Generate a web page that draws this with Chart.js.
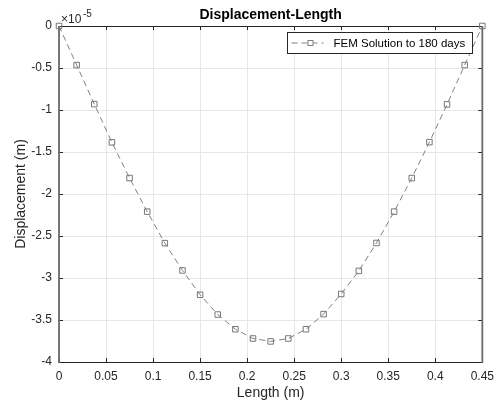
<!DOCTYPE html>
<html>
<head>
<meta charset="utf-8">
<script src="https://cdn.jsdelivr.net/npm/chart.js@4/dist/chart.umd.min.js"></script>
<style>
html,body{margin:0;padding:0;background:#fff;}
canvas{display:block;}
</style>
</head>
<body>
<canvas id="c" width="501" height="406"></canvas>
<script>
// Length along the member (m)
const lengthM = [0, 0.01875, 0.0375, 0.05625, 0.075, 0.09375, 0.1125, 0.13125, 0.15, 0.16875,
	0.1875, 0.20625, 0.225, 0.24375, 0.2625, 0.28125, 0.3, 0.31875, 0.3375, 0.35625,
	0.375, 0.39375, 0.4125, 0.43125, 0.45];
// Displacement, in units of 1e-5 m
const displacementE5 = [0, -0.465, -0.93, -1.385, -1.81, -2.21, -2.585, -2.91, -3.2, -3.435,
	-3.61, -3.72, -3.755, -3.72, -3.61, -3.43, -3.19, -2.915, -2.583, -2.21,
	-1.81, -1.383, -0.933, -0.465, 0];
const seriesName = 'FEM Solution to 180 days';
const xTicks = [0, 0.05, 0.1, 0.15, 0.2, 0.25, 0.3, 0.35, 0.4, 0.45];
const yTicks = [-4, -3.5, -3, -2.5, -2, -1.5, -1, -0.5, 0];

const font = 'Liberation Sans, Arial, Helvetica, sans-serif';
const axisCol = '#262626';
const lineCol = '#808080';

// box, inward ticks, title, exponent and legend drawn MATLAB style
const furniture = {
	id: 'furniture',
	beforeDatasetsDraw(chart){
		const ctx = chart.ctx, a = chart.chartArea;
		const sx = chart.scales.x, sy = chart.scales.y;
		ctx.save();
		ctx.strokeStyle = axisCol;
		ctx.lineWidth = 1;
		ctx.beginPath();
		xTicks.forEach(function(v){
			let p = Math.round(sx.getPixelForValue(v)) + 0.5;
			ctx.moveTo(p, a.bottom); ctx.lineTo(p, a.bottom - 4);
			ctx.moveTo(p, a.top); ctx.lineTo(p, a.top + 4);
		});
		yTicks.forEach(function(v){
			let p = Math.round(sy.getPixelForValue(v)) + 0.5;
			ctx.moveTo(a.left, p); ctx.lineTo(a.left + 4, p);
			ctx.moveTo(a.right, p); ctx.lineTo(a.right - 4, p);
		});
		ctx.stroke();
		// box
		ctx.beginPath();
		ctx.moveTo(a.left, a.top + 0.5); ctx.lineTo(a.right, a.top + 0.5);
		ctx.moveTo(a.left, a.bottom + 0.5); ctx.lineTo(a.right, a.bottom + 0.5);
		ctx.stroke();
		ctx.strokeStyle = '#6a6a6a';
		ctx.lineWidth = 1.8;
		ctx.beginPath();
		ctx.moveTo(a.left, a.top); ctx.lineTo(a.left, a.bottom + 1);
		ctx.moveTo(a.right, a.top); ctx.lineTo(a.right, a.bottom + 1);
		ctx.stroke();
		ctx.restore();
	},
	afterDraw(chart){
		const ctx = chart.ctx, a = chart.chartArea;
		ctx.save();
		// title
		ctx.fillStyle = '#000';
		ctx.font = 'bold 14px ' + font;
		ctx.textAlign = 'center';
		ctx.textBaseline = 'middle';
		ctx.fillText('Displacement-Length', (a.left + a.right) / 2, 15);
		// exponent
		ctx.fillStyle = axisCol;
		ctx.textAlign = 'left';
		ctx.font = '12px ' + font;
		ctx.fillText('\u00d710', a.left + 2, 20);
		ctx.font = '10px ' + font;
		ctx.fillText('-5', a.left + 24, 14);
		// legend
		let lx = 287.5, ly = 32.5, lw = 185, lh = 21, cy = ly + lh / 2;
		ctx.fillStyle = '#fff';
		ctx.fillRect(lx, ly, lw, lh);
		ctx.strokeStyle = axisCol;
		ctx.lineWidth = 1;
		ctx.strokeRect(lx, ly, lw, lh);
		ctx.strokeStyle = lineCol;
		ctx.setLineDash([6, 4]);
		ctx.beginPath();
		ctx.moveTo(lx + 4, cy); ctx.lineTo(lx + 36, cy);
		ctx.stroke();
		ctx.setLineDash([]);
		ctx.fillStyle = '#fff';
		ctx.fillRect(lx + 20.5, cy - 2.5, 5, 5);
		ctx.strokeRect(lx + 20.5, cy - 2.5, 5, 5);
		ctx.fillStyle = '#000';
		ctx.font = '11.5px ' + font;
		ctx.textBaseline = 'middle';
		ctx.fillText(seriesName, lx + 46, cy + 0.5);
		ctx.restore();
	}
};

const points = lengthM.map(function(x, i){ return {x: x, y: displacementE5[i]}; });

new Chart(document.getElementById('c'), {
	type: 'scatter',
	data: {
		datasets: [{
			label: seriesName,
			data: points,
			showLine: true,
			clip: 8,
			borderColor: lineCol,
			borderWidth: 1,
			borderDash: [6, 4],
			pointStyle: 'rect',
			pointRadius: 3.9,
			pointBorderWidth: 1,
			pointBorderColor: '#777',
			pointBackgroundColor: 'rgba(0,0,0,0)',
			tension: 0
		}]
	},
	options: {
		responsive: false,
		devicePixelRatio: 1,
		animation: false,
		layout: {padding: {top: 26, right: 18, left: 0, bottom: 0}},
		plugins: {legend: {display: false}, tooltip: {enabled: false}, title: {display: false}},
		scales: {
			x: {
				type: 'linear', min: 0, max: 0.45,
				afterFit: function(s){ s.height = 44; },
				ticks: {stepSize: 0.05, padding: 7, color: axisCol, font: {family: font, size: 12},
					maxRotation: 0,
					callback: function(v){ return String(Math.round(v * 100) / 100); }},
				grid: {color: '#e6e6e6', drawTicks: false},
				border: {display: false},
				title: {display: true, text: 'Length (m)', color: axisCol, font: {family: font, size: 14}, padding: {top: 0, bottom: 4}}
			},
			y: {
				type: 'linear', min: -4, max: 0,
				afterFit: function(s){ s.width = 59; },
				ticks: {stepSize: 0.5, padding: 7, color: axisCol, font: {family: font, size: 12},
					callback: function(v){ return String(Math.round(v * 10) / 10); }},
				grid: {color: '#e6e6e6', drawTicks: false},
				border: {display: false},
				title: {display: true, text: 'Displacement (m)', color: axisCol, font: {family: font, size: 14}, padding: {top: 13, bottom: 0}}
			}
		}
	},
	plugins: [furniture]
});
</script>
</body>
</html>
